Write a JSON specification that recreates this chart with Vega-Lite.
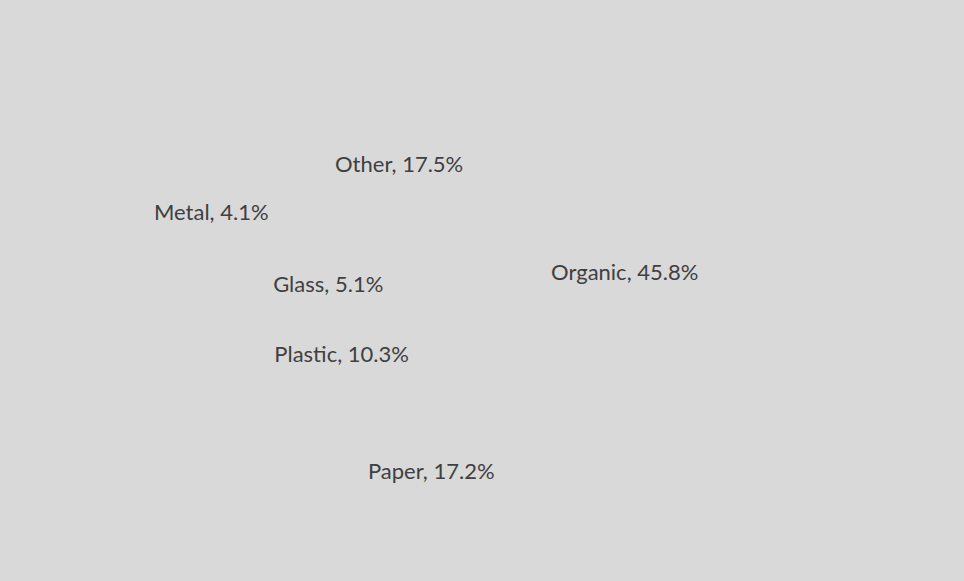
{
  "$schema": "https://vega.github.io/schema/vega-lite/v6.json",
  "width": 964,
  "height": 581,
  "autosize": {"type": "fit", "contains": "padding"},
  "padding": 0,
  "background": "#d9d9d9",
  "config": {"view": {"stroke": null}},
  "data": {
    "values": [
      {"rank": 1, "category": "Organic", "share": 45.8, "label": "Organic, 45.8%"},
      {"rank": 2, "category": "Paper", "share": 17.2, "label": "Paper, 17.2%"},
      {"rank": 3, "category": "Plastic", "share": 10.3, "label": "Plastic, 10.3%"},
      {"rank": 4, "category": "Glass", "share": 5.1, "label": "Glass, 5.1%"},
      {"rank": 5, "category": "Metal", "share": 4.1, "label": "Metal, 4.1%"},
      {"rank": 6, "category": "Other", "share": 17.5, "label": "Other, 17.5%"}
    ]
  },
  "encoding": {
    "theta": {"field": "share", "type": "quantitative", "stack": true},
    "order": {"field": "rank", "type": "quantitative", "sort": "ascending"}
  },
  "layer": [
    {
      "mark": {"type": "arc", "outerRadius": 230, "fill": "#d9d9d9", "stroke": null}
    },
    {
      "mark": {"type": "text", "radius": 149, "dx": -5, "dy": 9, "font": "Lato", "fontSize": 22, "fill": "#404040", "align": "center", "baseline": "middle"},
      "encoding": {
        "text": {"condition": {"test": "indexof(['Organic','Other','Glass','Plastic'], datum.category) >= 0", "field": "label"}, "value": ""}
      }
    },
    {
      "mark": {"type": "text", "radius": 186, "dx": 0, "dy": 10, "font": "Lato", "fontSize": 22, "fill": "#404040", "align": "center", "baseline": "middle"},
      "encoding": {
        "text": {"condition": {"test": "datum.category === 'Paper'", "field": "label"}, "value": ""}
      }
    },
    {
      "mark": {"type": "text", "radius": 280, "dx": -7, "dy": 24, "font": "Lato", "fontSize": 22, "fill": "#404040", "align": "center", "baseline": "middle"},
      "encoding": {
        "text": {"condition": {"test": "datum.category === 'Metal'", "field": "label"}, "value": ""}
      }
    }
  ]
}
